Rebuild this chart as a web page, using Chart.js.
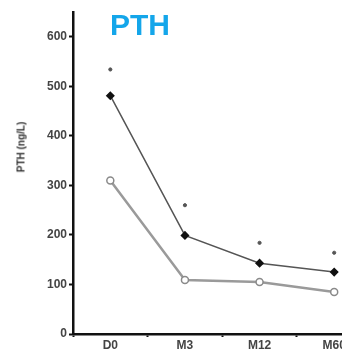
<!DOCTYPE html>
<html>
<head>
<meta charset="utf-8">
<script src="https://cdn.jsdelivr.net/npm/chart.js@4.4.0/dist/chart.umd.min.js"></script>
<style>
  html, body { margin: 0; padding: 0; background: #fff; overflow: hidden; }
  #wrap { position: relative; width: 342px; height: 355px; overflow: hidden; }
  #pth-chart { position: absolute; left: 0; top: 0; }
  #title {
    position: absolute; left: 110px; top: 8px;
    font: bold 30px "Liberation Sans", Arial, sans-serif;
    color: #14a6ea;
  }
  #ylabel {
    position: absolute; left: 21px; top: 147px;
    transform: translate(-50%, -50%) rotate(-90deg);
    white-space: nowrap;
    font: bold 10px "Liberation Sans", Arial, sans-serif;
    color: #333;
  }
</style>
</head>
<body>
<div id="wrap">
  <canvas id="pth-chart" width="377" height="355"></canvas>
  <div id="title">PTH</div>
  <div id="ylabel">PTH (ng/L)</div>
</div>
<script>
let visits = ['D0', 'M3', 'M12', 'M60']
// black diamonds, top line
let pthGroupA = [481, 199, 143, 125]
// open circles, bottom line
let pthGroupB = [310, 109, 105, 85]
// the little significance marks above the points
let starHeights = [534, 260, 184, 164]
let yTicks = [0, 100, 200, 300, 400, 500, 600]

let axisFont = { family: '"Liberation Sans", Arial, sans-serif', size: 12, weight: 'bold' }

let canvas = document.querySelector('#pth-chart')
let context = canvas.getContext('2d')

let chart = new Chart(context, {
    type: 'line',
    data: {
        labels: visits,
        datasets: [
            {
                data: pthGroupA,
                borderColor: '#555',
                borderWidth: 1.5,
                pointBackgroundColor: '#111',
                pointBorderColor: '#111',
                pointRadius: 3.5,
                pointStyle: 'rectRot'
            },
            {
                data: pthGroupB,
                borderColor: '#9a9a9a',
                borderWidth: 2.5,
                pointBackgroundColor: '#fff',
                pointBorderColor: '#8a8a8a',
                pointBorderWidth: 1.5,
                pointRadius: 3.5
            },
            {
                data: starHeights,
                showLine: false,
                pointBackgroundColor: '#555',
                pointBorderColor: '#555',
                pointRadius: 1.6
            }
        ]
    },
    options: {
        responsive: false,
        animation: false,
        layout: {
            padding: { top: 12, right: 2, left: 0, bottom: 0 }
        },
        plugins: {
            legend: { display: false },
            tooltip: { enabled: false }
        },
        scales: {
            x: {
                offset: true,
                grid: {
                    offset: true,
                    drawOnChartArea: false,
                    drawTicks: true,
                    tickLength: 3,
                    color: '#111',
                    tickWidth: 2
                },
                border: { display: true, color: '#111', width: 2.5 },
                ticks: { color: '#444', font: axisFont, padding: 1 },
                afterFit: function(scale) { scale.height = 21 }
            },
            y: {
                min: 0,
                max: 650,
                grid: {
                    drawOnChartArea: false,
                    drawTicks: true,
                    tickLength: 4,
                    color: '#111',
                    tickWidth: 2
                },
                border: { display: true, color: '#111', width: 2.5 },
                ticks: { color: '#444', font: axisFont, padding: 2 },
                afterBuildTicks: function(scale) {
                    scale.ticks = yTicks.map(function(v) { return { value: v } })
                },
                afterFit: function(scale) { scale.width = 73 }
            }
        }
    }
})
</script>
</body>
</html>
